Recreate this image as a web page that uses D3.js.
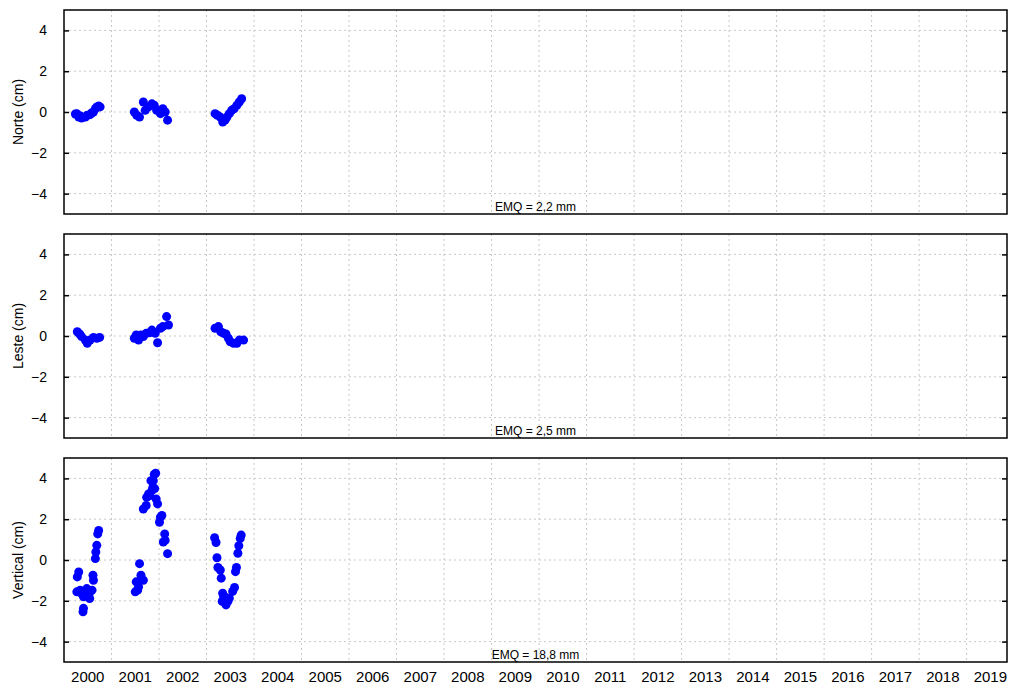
<!DOCTYPE html>
<html>
<head>
<meta charset="utf-8">
<script src="https://cdn.jsdelivr.net/npm/d3@7"></script>
<style>
body { margin: 0; background: #fff; }
svg { display: block; font-family: "Liberation Sans", Arial, sans-serif; }
.grid line { stroke: #c8c8c8; stroke-dasharray: 2,3; stroke-width: 1; }
</style>
</head>
<body>
<svg id="chart" width="1010" height="685"></svg>
<script>
// decimal year / value (cm)
const northT = [2000.24, 2000.27, 2000.31, 2000.35, 2000.37, 2000.45, 2000.49, 2000.55, 2000.58, 2000.62, 2000.66, 2000.69, 2000.73, 2000.76,
    2001.48, 2001.53, 2001.59, 2001.67, 2001.71, 2001.78, 2001.85, 2001.90, 2001.95, 2002.03, 2002.08, 2002.13, 2002.18,
    2003.18, 2003.23, 2003.29, 2003.34, 2003.39, 2003.43, 2003.48, 2003.53, 2003.58, 2003.64, 2003.69, 2003.74];
const northV = [-0.10, -0.08, -0.25, -0.20, -0.30, -0.25, -0.16, -0.13, -0.05, 0.00, 0.16, 0.25, 0.29, 0.25,
    0.00, -0.16, -0.25, 0.49, 0.08, 0.25, 0.40, 0.33, 0.08, -0.08, 0.16, 0.00, -0.40,
    -0.08, -0.16, -0.25, -0.49, -0.40, -0.25, -0.08, 0.08, 0.16, 0.33, 0.49, 0.65];

const eastT = [2000.28, 2000.33, 2000.37, 2000.45, 2000.49, 2000.55, 2000.62, 2000.69, 2000.75,
    2001.48, 2001.52, 2001.57, 2001.62, 2001.67, 2001.73, 2001.80, 2001.85, 2001.92, 2001.97, 2002.03, 2002.08, 2002.16, 2002.20,
    2003.18, 2003.25, 2003.30, 2003.36, 2003.41, 2003.46, 2003.50, 2003.57, 2003.64, 2003.69, 2003.78];
const eastV = [0.21, 0.10, -0.03, -0.20, -0.36, -0.20, -0.07, -0.11, -0.07,
    -0.11, 0.05, -0.20, 0.05, -0.03, 0.13, 0.16, 0.29, 0.13, -0.33, 0.38, 0.46, 0.95, 0.54,
    0.38, 0.46, 0.21, 0.13, 0.10, -0.11, -0.28, -0.36, -0.36, -0.20, -0.20];

const upT = [2000.27, 2000.28, 2000.31, 2000.34, 2000.37, 2000.40, 2000.41, 2000.41, 2000.43, 2000.48, 2000.49, 2000.54, 2000.55, 2000.59, 2000.61, 2000.62, 2000.66, 2000.67, 2000.69, 2000.71, 2000.73,
    2001.50, 2001.52, 2001.55, 2001.57, 2001.59, 2001.62, 2001.67, 2001.67, 2001.73, 2001.74, 2001.78, 2001.80, 2001.83, 2001.85, 2001.87, 2001.88, 2001.90, 2001.91, 2001.93, 2001.94, 2001.97, 2002.01, 2002.03, 2002.06, 2002.09, 2002.12, 2002.13, 2002.18,
    2003.17, 2003.20, 2003.22, 2003.24, 2003.29, 2003.31, 2003.33, 2003.34, 2003.36, 2003.40, 2003.41, 2003.45, 2003.48, 2003.55, 2003.59, 2003.61, 2003.63, 2003.66, 2003.68, 2003.71, 2003.73];
const upV = [-1.56, -0.83, -0.59, -1.48, -1.64, -2.54, -2.37, -1.80, -1.56, -1.40, -1.72, -1.89, -1.56, -1.48, -0.75, -0.99, 0.07, 0.39, 0.72, 1.28, 1.45,
    -1.56, -1.07, -1.48, -1.32, -0.18, -0.75, -0.99, 2.50, 2.67, 3.07, 3.24, 3.15, 3.89, 3.40, 3.56, 3.89, 4.20, 3.50, 4.25, 2.99, 2.75, 1.85, 2.10, 2.18, 0.88, 1.28, 0.96, 0.31,
    1.09, 0.86, 0.11, -0.37, -0.49, -0.89, -2.03, -1.63, -1.79, -1.84, -2.20, -2.03, -1.87, -1.54, -1.35, -0.57, -0.37, 0.33, 0.70, 1.06, 1.22];

const panelLabels = ["Norte (cm)", "Leste (cm)", "Vertical (cm)"];
const emqLabels = ["EMQ = 2,2 mm", "EMQ = 2,5 mm", "EMQ = 18,8 mm"];
const yTicks = [-4, -2, 0, 2, 4];
const years = d3.range(2000, 2020);

const series = [[northT, northV], [eastT, eastV], [upT, upV]];

const svg = d3.select('#chart');
const left = 64, right = 1007;
const panelTop = [10, 234, 458];
const panelH = 204;

const xScale = d3.scaleLinear().domain([2000, 2019.85]).range([left, right]);

const fmt = d => (d < 0 ? '\u2212' + Math.abs(d) : '' + d);

series.forEach(function (s, i) {
    const top = panelTop[i];
    const yScale = d3.scaleLinear().domain([-5, 5]).range([top + panelH, top]);
    const g = svg.append('g');

    // grid
    const grid = g.append('g').attr('class', 'grid');
    grid.selectAll('.hy').data(yTicks).enter().append('line')
        .attr('x1', left).attr('x2', right)
        .attr('y1', d => yScale(d)).attr('y2', d => yScale(d));
    grid.selectAll('.vx').data(years.slice(1)).enter().append('line')
        .attr('x1', d => xScale(d)).attr('x2', d => xScale(d))
        .attr('y1', top).attr('y2', top + panelH);

    // points
    const pts = s[0].map((t, k) => ({t: t, v: s[1][k]}));
    g.selectAll('circle').data(pts).enter().append('circle')
        .attr('cx', d => xScale(d.t))
        .attr('cy', d => yScale(d.v))
        .attr('r', 4.5)
        .attr('fill', '#0000ff');

    // left & right axes with inward ticks
    g.append('g')
        .attr('transform', 'translate(' + left + ',0)')
        .call(d3.axisRight(yScale).tickValues(yTicks).tickSize(5).tickFormat(''))
        .call(a => a.select('.domain').remove())
        .selectAll('line').attr('stroke', '#000').attr('stroke-width', 1.5);
    g.append('g')
        .attr('transform', 'translate(' + right + ',0)')
        .call(d3.axisLeft(yScale).tickValues(yTicks).tickSize(5).tickFormat(''))
        .call(a => a.select('.domain').remove())
        .selectAll('line').attr('stroke', '#000').attr('stroke-width', 1.5);

    // tick labels
    g.selectAll('.ylab').data(yTicks).enter().append('text')
        .attr('x', 47)
        .attr('y', d => yScale(d))
        .attr('dy', '0.36em')
        .attr('text-anchor', 'end')
        .style('font-size', '14px')
        .text(fmt);

    // frame
    g.append('rect')
        .attr('x', left).attr('y', top)
        .attr('width', right - left).attr('height', panelH)
        .attr('fill', 'none').attr('stroke', '#000').attr('stroke-width', 1.5);

    g.append('text')
        .attr('transform', 'translate(18,' + (top + panelH / 2) + ') rotate(-90)')
        .attr('dy', '0.35em')
        .attr('text-anchor', 'middle')
        .style('font-size', '14px')
        .text(panelLabels[i]);

    g.append('text')
        .attr('x', (left + right) / 2)
        .attr('y', top + panelH - 3)
        .attr('text-anchor', 'middle')
        .style('font-size', '12px')
        .text(emqLabels[i]);
});

// year labels at mid-year
svg.append('g').selectAll('text').data(years).enter().append('text')
    .attr('x', d => xScale(d + 0.5))
    .attr('y', 682)
    .attr('text-anchor', 'middle')
    .style('font-size', '15px')
    .text(d => d);
</script>
</body>
</html>
